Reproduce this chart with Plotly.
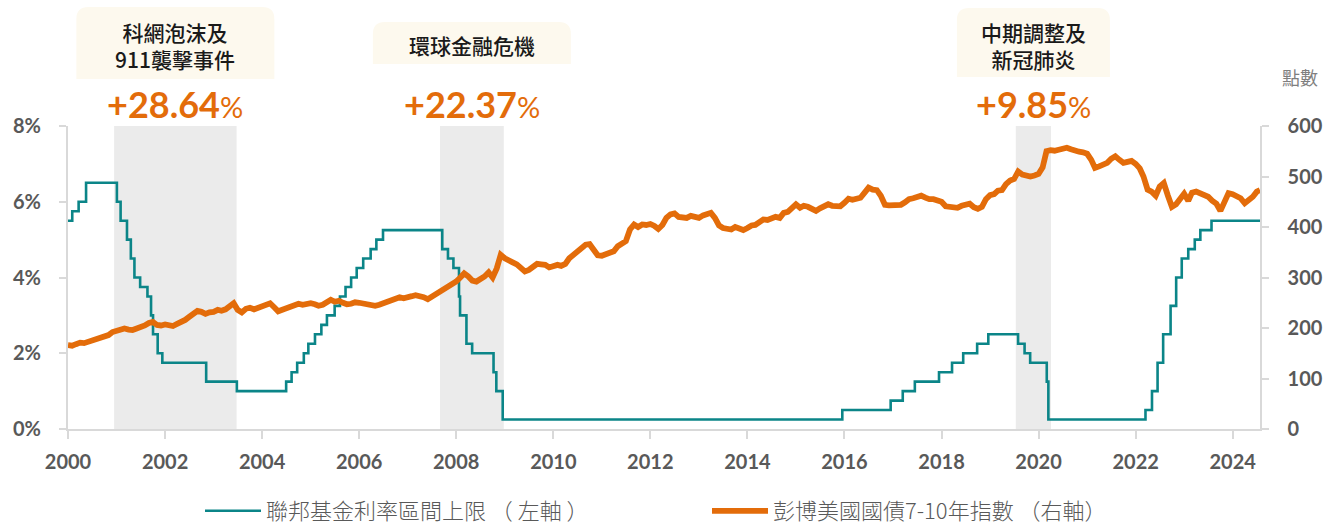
import pandas as pd
import plotly.graph_objects as go

# ---------------- data ----------------
fed_dates = [
    "2000-01-01", "2000-02-02", "2000-03-21", "2000-05-16", "2001-01-03", "2001-01-31",
    "2001-03-20", "2001-04-18", "2001-05-15", "2001-06-27", "2001-08-21", "2001-09-17",
    "2001-10-02", "2001-11-06", "2001-12-11", "2002-11-06", "2003-06-25", "2004-06-30",
    "2004-08-10", "2004-09-21", "2004-11-10", "2004-12-14", "2005-02-02", "2005-03-22",
    "2005-05-03", "2005-06-30", "2005-08-09", "2005-09-20", "2005-11-01", "2005-12-13",
    "2006-01-31", "2006-03-28", "2006-05-10", "2006-06-29", "2007-09-18", "2007-10-31",
    "2007-12-11", "2008-01-22", "2008-01-30", "2008-03-18", "2008-04-30", "2008-10-08",
    "2008-10-29", "2008-12-16", "2015-12-16", "2016-12-14", "2017-03-15", "2017-06-14",
    "2017-12-13", "2018-03-21", "2018-06-13", "2018-09-26", "2018-12-19", "2019-07-31",
    "2019-09-18", "2019-10-30", "2020-03-03", "2020-03-15", "2022-03-16", "2022-05-04",
    "2022-06-15", "2022-07-27", "2022-09-21", "2022-11-02", "2022-12-14", "2023-02-01",
    "2023-03-22", "2023-05-03", "2023-07-26", "2024-07-25",
]
fed_upper = [
    5.50, 5.75, 6.00, 6.50, 6.00, 5.50,
    5.00, 4.50, 4.00, 3.75, 3.50, 3.00,
    2.50, 2.00, 1.75, 1.25, 1.00, 1.25,
    1.50, 1.75, 2.00, 2.25, 2.50, 2.75,
    3.00, 3.25, 3.50, 3.75, 4.00, 4.25,
    4.50, 4.75, 5.00, 5.25, 4.75, 4.50,
    4.25, 3.50, 3.00, 2.25, 2.00, 1.50,
    1.00, 0.25, 0.50, 0.75, 1.00, 1.25,
    1.50, 1.75, 2.00, 2.25, 2.50, 2.25,
    2.00, 1.75, 1.25, 0.25, 0.50, 1.00,
    1.75, 2.50, 3.25, 4.00, 4.50, 4.75,
    5.00, 5.25, 5.50, 5.50,
]

# Bloomberg US Treasury 7-10Y index, month-start readings (Jan 2000 - Jul 2024)
idx_2000 = [166, 165, 168, 171, 170, 173, 176, 178, 179, 182, 186, 192]
idx_2001 = [194, 196, 199, 197, 196, 199, 201, 205, 210, 212, 206, 205]
idx_2002 = [207, 206, 204, 208, 211, 216, 222, 229, 234, 232, 228, 231]
idx_2003 = [232, 236, 234, 237, 244, 249, 236, 231, 238, 240, 237, 240]
idx_2004 = [242, 245, 249, 241, 233, 236, 239, 243, 246, 248, 246, 248]
idx_2005 = [249, 247, 244, 246, 251, 256, 252, 254, 250, 247, 248, 251]
idx_2006 = [250, 248, 246, 244, 244, 246, 249, 253, 257, 259, 261, 259]
idx_2007 = [260, 263, 265, 264, 261, 257, 262, 268, 272, 276, 283, 287]
idx_2008 = [292, 300, 308, 302, 294, 292, 296, 302, 310, 300, 318, 345]
idx_2009 = [338, 332, 330, 326, 318, 312, 315, 320, 327, 326, 325, 320]
idx_2010 = [322, 325, 323, 327, 338, 345, 352, 358, 365, 366, 352, 344]
idx_2011 = [343, 346, 348, 352, 362, 368, 372, 395, 405, 400, 405, 404]
idx_2012 = [406, 402, 396, 404, 418, 425, 427, 420, 418, 418, 422, 421]
idx_2013 = [418, 423, 426, 428, 418, 403, 398, 396, 395, 400, 398, 394]
idx_2014 = [398, 403, 404, 408, 415, 414, 416, 420, 418, 428, 430, 437]
idx_2015 = [445, 438, 442, 440, 435, 432, 437, 440, 445, 442, 440, 441]
idx_2016 = [448, 456, 454, 456, 458, 468, 478, 474, 473, 462, 444, 443]
idx_2017 = [443, 444, 444, 449, 455, 457, 459, 462, 458, 455, 455, 453]
idx_2018 = [450, 441, 440, 441, 438, 442, 444, 446, 439, 436, 440, 455]
idx_2019 = [463, 465, 472, 473, 485, 492, 495, 510, 504, 502, 500, 502]
idx_2020 = [505, 518, 550, 552, 551, 553, 556, 557, 554, 551, 549, 548]
idx_2021 = [545, 533, 517, 520, 524, 527, 535, 540, 533, 527, 529, 531]
idx_2022 = [525, 516, 500, 474, 470, 462, 480, 487, 462, 440, 445, 458]
idx_2023 = [466, 452, 468, 470, 466, 462, 460, 452, 446, 432, 452, 467]
idx_2024 = [465, 460, 457, 447, 452, 460, 470]
idx_last_date = "2024-07-25"
idx_last_value = 473

shade_start = ["2000-12-13", "2007-09-01", "2019-07-14"]
shade_end = ["2003-06-23", "2008-12-24", "2020-04-04"]
event_labels = ["科網泡沫及<br>911襲擊事件", "環球金融危機", "中期調整及<br>新冠肺炎"]
event_returns = ["+28.64", "+22.37", "+9.85"]

left_ticks = [0, 2, 4, 6, 8]
right_ticks = [0, 100, 200, 300, 400, 500, 600]

series_fed_name = "聯邦基金利率區間上限 （ 左軸 ）"
series_idx_name = "彭博美國國債7-10年指數 （右軸）"

# ---------------- build ----------------
idx_values = (idx_2000 + idx_2001 + idx_2002 + idx_2003 + idx_2004 + idx_2005 + idx_2006
              + idx_2007 + idx_2008 + idx_2009 + idx_2010 + idx_2011 + idx_2012 + idx_2013
              + idx_2014 + idx_2015 + idx_2016 + idx_2017 + idx_2018 + idx_2019 + idx_2020
              + idx_2021 + idx_2022 + idx_2023 + idx_2024)
idx_dates = list(pd.date_range("2000-01-01", periods=len(idx_values), freq="MS"))
idx_dates.append(pd.Timestamp(idx_last_date))
idx_values = idx_values + [idx_last_value]

TEAL = "#0b8588"
ORANGE = "#e36c0a"
AXIS = "#d9d9d9"
TICKTXT = "#595959"

W, H = 1324, 527
ML, MR, MT, MB = 68, 64, 126, 98
PH = H - MT - MB
PW = W - ML - MR

def py(p):  # pixel row -> paper y
    return (H - MB - p) / PH

def px(p):  # pixel column -> paper x
    return (p - ML) / PW

fig = go.Figure()
fig.add_trace(go.Scatter(x=fed_dates, y=fed_upper, mode="lines", line_shape="hv",
                         line=dict(color=TEAL, width=2.6), name=series_fed_name,
                         yaxis="y"))
fig.add_trace(go.Scatter(x=idx_dates, y=idx_values, mode="lines",
                         line=dict(color=ORANGE, width=5.8), name=series_idx_name,
                         yaxis="y2"))

shapes = []
annotations = []
box_w = [198, 198, 153]
box_top = [7, 22, 8]
box_bot = [79, 64, 77]
text_mid = [46, 45, 45]
for i in range(3):
    s, e = pd.Timestamp(shade_start[i]), pd.Timestamp(shade_end[i])
    mid = s + (e - s) / 2
    shapes.append(dict(type="rect", xref="x", yref="paper", x0=s, x1=e, y0=0, y1=1,
                       fillcolor="#ebebeb", line=dict(width=0), layer="below"))
    w = box_w[i] / 2
    yb = MT - box_bot[i]
    yt = MT - box_top[i]
    r = 12
    path = (f"M{-w},{yb} L{-w},{yt - r} Q{-w},{yt} {-w + r},{yt} "
            f"L{w - r},{yt} Q{w},{yt} {w},{yt - r} L{w},{yb} Z")
    shapes.append(dict(type="path", xref="x", yref="paper", xsizemode="pixel",
                       ysizemode="pixel", xanchor=mid, yanchor=1, path=path,
                       fillcolor="#fdf9ee", line=dict(width=0), layer="above"))
    annotations.append(dict(xref="x", yref="paper", x=mid,
                            y=py(text_mid[i]), text=event_labels[i],
                            showarrow=False, xanchor="center", yanchor="middle",
                            font=dict(family="Noto Sans CJK TC", size=21, color="#1a1a1a",
                                      weight=500),
                            align="center"))
    annotations.append(dict(xref="x", yref="paper", x=mid, y=py(104),
                            text=(f"<b>{event_returns[i]}</b>"
                                  "<span style='font-size:29px'>%</span>"),
                            showarrow=False, xanchor="center", yanchor="middle",
                            font=dict(family="Lato", size=36, color=ORANGE)))

annotations.append(dict(xref="paper", yref="paper", x=px(1300), y=py(77),
                        text="點數", showarrow=False, xanchor="center", yanchor="middle",
                        font=dict(family="Noto Sans CJK TC", size=18, color="#7f7f7f")))

tickfont = dict(family="Lato", size=20, color=TICKTXT, weight="bold")
NBSP = "\u00a0"
fig.update_layout(
    width=W, height=H,
    margin=dict(l=ML, r=MR, t=MT, b=MB, pad=0),
    paper_bgcolor="white", plot_bgcolor="white",
    showlegend=True,
    legend=dict(orientation="h", x=px(200), xanchor="left", xref="paper",
                yref="container", y=1 - 511 / H, yanchor="middle", itemwidth=56,
                entrywidth=436, entrywidthmode="pixels",
                font=dict(family="Noto Sans CJK TC", size=22, color=TICKTXT, weight=300),
                bgcolor="rgba(0,0,0,0)"),
    xaxis=dict(type="date", range=["2000-01-01", "2024-07-25"], tick0="2000-01-01",
               dtick="M24", tickformat="%Y", showgrid=False, zeroline=False,
               showline=True, linecolor=AXIS, linewidth=2, ticks="outside",
               ticklen=8, tickwidth=2, tickcolor=AXIS, automargin=False,
               ticklabelstandoff=6, tickfont=tickfont),
    yaxis=dict(range=[0, 8], tickvals=left_ticks, ticktext=[f"{v}%" for v in left_ticks],
               showgrid=False, zeroline=False, showline=True, linecolor=AXIS, linewidth=2,
               ticks="outside", ticklen=7, tickwidth=2, tickcolor=AXIS,
               ticklabelstandoff=14, automargin=False, tickfont=tickfont),
    yaxis2=dict(range=[0, 600], tickvals=right_ticks,
                ticktext=[NBSP * 3 + str(v) for v in right_ticks],
                overlaying="y", side="right",
                showgrid=False, zeroline=False, showline=True, linecolor=AXIS, linewidth=2,
                ticks="outside", ticklen=7, tickwidth=2, tickcolor=AXIS,
                automargin=False, tickfont=tickfont),
    shapes=shapes,
    annotations=annotations,
)

fig.write_html("out.html", config={"displayModeBar": False},
               post_script="document.body.style.margin='0';document.body.style.overflow='hidden';")
